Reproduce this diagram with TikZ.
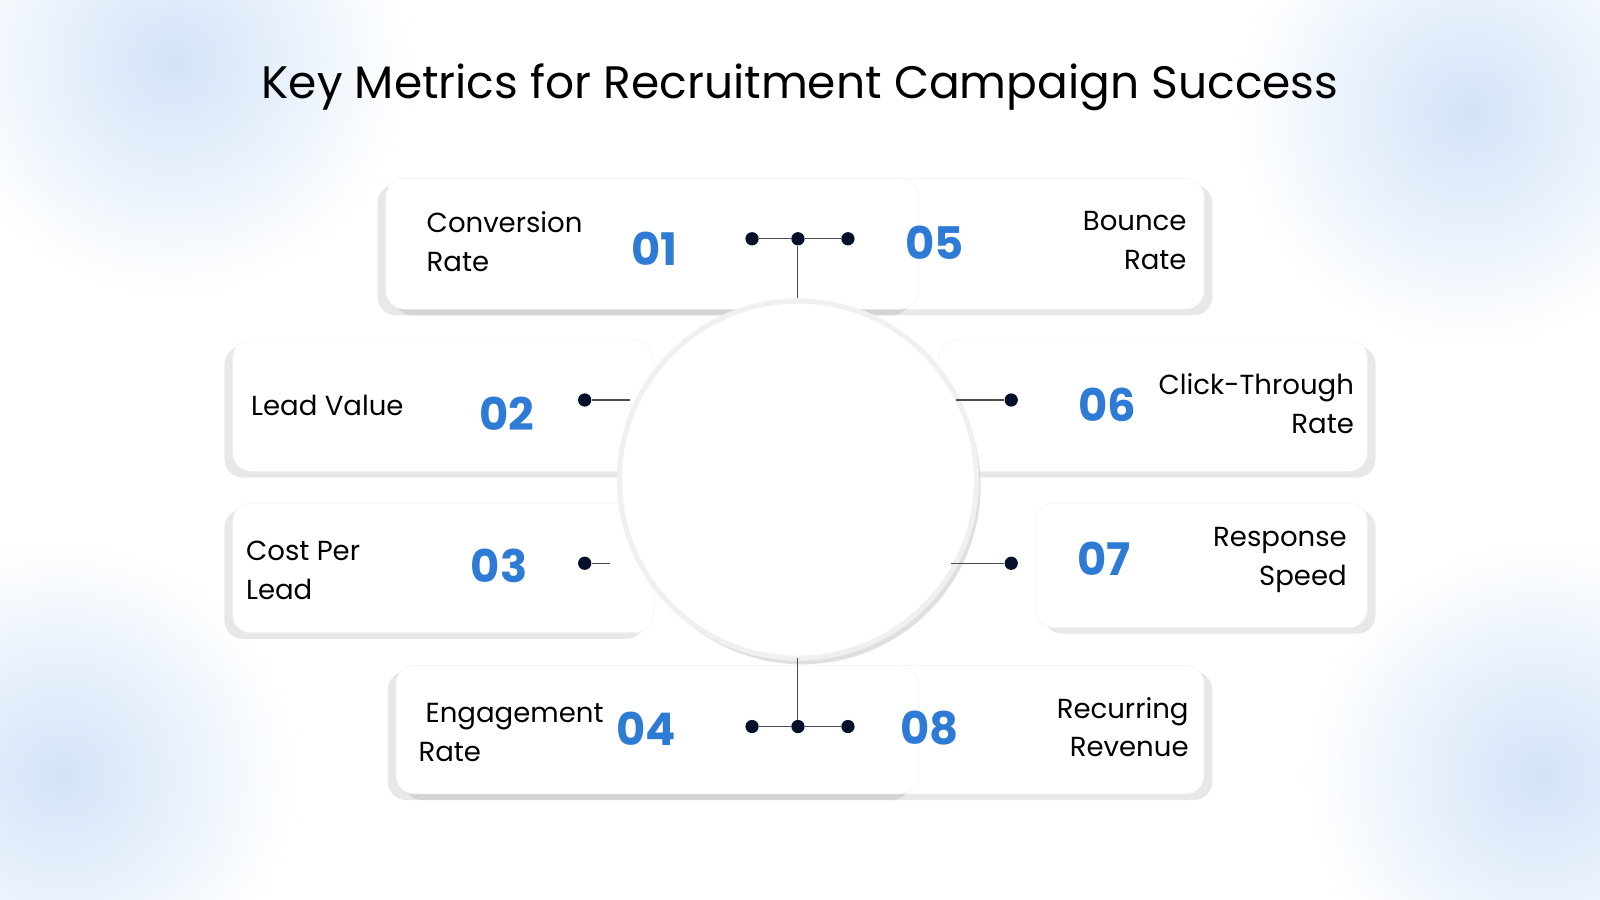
\documentclass[tikz,border=0pt]{standalone}
\usepackage{fontspec}
\setmainfont{Poppins}
\usetikzlibrary{shadows}
\definecolor{numblue}{HTML}{2E7BD6}
\definecolor{dotc}{HTML}{05102A}
\definecolor{blob}{HTML}{D3E3F8}
\tikzset{
  card/.style={fill=white,draw=black!6,rounded corners=18pt,drop shadow={shadow xshift=-8pt,shadow yshift=-6pt,opacity=0.15,fill=black!60}},
  cardr/.style={fill=white,draw=black!6,rounded corners=18pt,drop shadow={shadow xshift=8pt,shadow yshift=-6pt,opacity=0.15,fill=black!60}},
  num/.style={font=\fontsize{44}{44}\selectfont\bfseries,text=numblue,inner sep=0},
  lab/.style={font=\fontsize{27}{38}\selectfont,inner sep=0,text=black},
  dot/.style={circle,fill=dotc,minimum size=13pt,inner sep=0},
  conn/.style={draw=black!70,line width=1pt}
}
\begin{document}
\begin{tikzpicture}[x=1pt,y=-1pt]
\useasboundingbox (0,0) rectangle (1568,882);
\fill[white] (0,0) rectangle (1568,882);
\foreach \p in {(170,60),(1440,110),(60,760),(1510,760)}
  \shade[outer color=white,inner color=blob] \p circle (230);
\node[font=\fontsize{44.6}{44}\selectfont,inner sep=0] (title) at (784,86) {Key Metrics for Recruitment Campaign Success};
% cards
\path[cardr] (378,175) rectangle (1180,303);
\path[card] (378,175) rectangle (900,303);
\path[card] (228,333) rectangle (640,462);
\path[cardr] (920,333) rectangle (1340,462);
\path[card] (228,493) rectangle (640,620);
\path[cardr] (1015,493) rectangle (1340,615);
\path[cardr] (388,652) rectangle (1180,778);
\path[card] (388,652) rectangle (900,778);
\fill[white] (700,180) rectangle (880,298) (700,657) rectangle (880,773);
% circle
\node[circle,minimum size=350pt,fill=white,draw=black!6,line width=5pt,
  drop shadow={shadow xshift=4pt,shadow yshift=-6pt,opacity=0.25,fill=black!50}] (hub) at (782,470) {};
% texts
\node[lab,align=left,anchor=north west] (t1) at (418,207) {Conversion\\Rate};
\node[num] (n1) at (641,244) {01};
\node[num] (n5) at (916,238) {05};
\node[lab,align=right,anchor=north east] (t5) at (1163,207) {Bounce\\Rate};
\node[lab,anchor=west] (t2) at (246,397) {Lead Value};
\node[num] (n2) at (497,405) {02};
\node[num] (n6) at (1085,397) {06};
\node[lab,align=right,anchor=north east] (t6) at (1327,366) {Click-Through\\Rate};
\node[lab,align=left,anchor=north west] (t3) at (241,530) {Cost Per\\Lead};
\node[num] (n3) at (489,555) {03};
\node[num] (n7) at (1082,548) {07};
\node[lab,align=right,anchor=north east] (t7) at (1320,517) {Response\\Speed};
\node[lab,align=left,anchor=north west] (t4) at (410,689) {\hspace*{7pt}Engagement\\Rate};
\node[num] (n4) at (633,714) {04};
\node[num] (n8) at (911,714) {08};
\node[lab,align=right,anchor=north east] (t8) at (1165,683) {Recurring\\Revenue};
% connectors
\coordinate (ct) at (782,292);
\coordinate (cb) at (782,645);
\coordinate (c2) at (617,392);
\coordinate (c6) at (937,392);
\coordinate (c3) at (598,552);
\coordinate (c7) at (932,552);
\node[dot] (a1) at (737,234) {};
\node[dot] (a2) at (782,234) {};
\node[dot] (a3) at (831,234) {};
\node[dot] (b1) at (737,712) {};
\node[dot] (b2) at (782,712) {};
\node[dot] (b3) at (831,712) {};
\node[dot] (d2) at (573,392) {};
\node[dot] (d6) at (991,392) {};
\node[dot] (d3) at (573,552) {};
\node[dot] (d7) at (991,552) {};
\draw[conn] (a1)--(a2)--(a3) (a2)--(ct);
\draw[conn] (b1)--(b2)--(b3) (b2)--(cb);
\draw[conn] (d2)--(c2);
\draw[conn] (d6)--(c6);
\draw[conn] (d3)--(c3);
\draw[conn] (d7)--(c7);
\end{tikzpicture}
\end{document}
